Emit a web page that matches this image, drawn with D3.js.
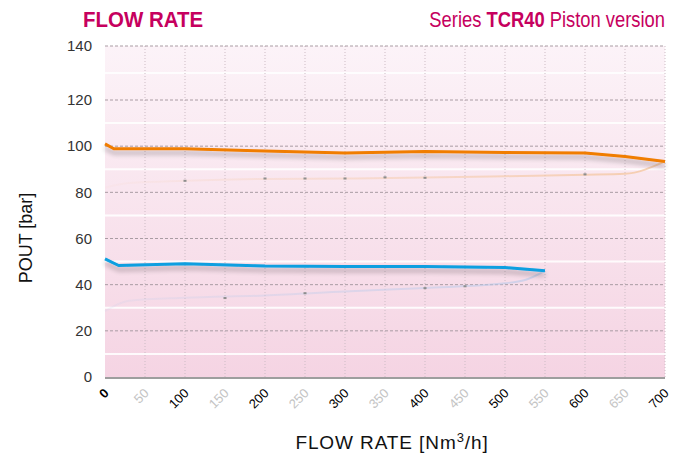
<!DOCTYPE html>
<html>
<head>
<meta charset="utf-8">
<script src="https://cdn.jsdelivr.net/npm/d3@7/dist/d3.min.js"></script>
<style>
  body { margin: 0; background: #fff; }
  svg { display: block; font-family: "Liberation Sans", Arial, sans-serif; }
</style>
</head>
<body>
<div id="chart"></div>
<script>
// data
const xTicks = [0, 50, 100, 150, 200, 250, 300, 350, 400, 450, 500, 550, 600, 650, 700];
const yTicks = [0, 20, 40, 60, 80, 100, 120, 140];
const yMinor = [10, 30, 50, 70, 90, 110, 130];

const orangeFlow = [0, 11, 100, 200, 300, 400, 500, 600, 650, 700];
const orangeP    = [101, 98.9, 98.9, 97.9, 97, 97.7, 97.3, 97, 95.5, 93.4];
const blueFlow   = [0, 17, 100, 200, 300, 400, 500, 550];
const blueP      = [51.2, 48.3, 49.1, 48.1, 47.9, 47.9, 47.4, 46];

// faint secondary curves and their small markers
const orangeFaintFlow = [0, 30, 100, 200, 300, 400, 500, 600, 650, 700];
const orangeFaintP    = [82, 84, 85, 85.8, 86, 86.4, 87, 87.6, 88, 93.4];
const orangeMarkFlow  = [100, 200, 250, 300, 350, 400, 600];
const orangeMarkP     = [85, 86, 86, 86, 86.5, 86.3, 87.8];
const blueFaintFlow   = [0, 30, 100, 200, 300, 400, 500, 525, 550];
const blueFaintP      = [28.5, 33, 34.3, 35.3, 37, 38.6, 40.6, 42, 46];
const blueMarkFlow    = [150, 250, 400, 450];
const blueMarkP       = [34.2, 36.3, 38.5, 39.3];

const width = 680, height = 456;
const mLeft = 105, mRight = 665, mTop = 46, mBottom = 377;
const magenta = "#c6005e";

const svg = d3.select("#chart").append("svg")
  .attr("width", width)
  .attr("height", height);

const x = d3.scaleLinear().domain([0, 700]).range([mLeft, mRight]);
// top band of the original is a bit taller than the others
const y = d3.scaleLinear().domain([0, 120, 140]).range([mBottom, 100, mTop]);

const defs = svg.append("defs");
const grad = defs.append("linearGradient")
  .attr("id", "bg").attr("x1", 0).attr("y1", 0).attr("x2", 0).attr("y2", 1);
grad.append("stop").attr("offset", "0%").attr("stop-color", "#fcf3f8");
grad.append("stop").attr("offset", "100%").attr("stop-color", "#f5d4e3");

// faint curves fade in from the left
function fadeGradient(id, color, from, to) {
  const g = defs.append("linearGradient").attr("id", id)
    .attr("gradientUnits", "userSpaceOnUse")
    .attr("x1", mLeft).attr("x2", mRight).attr("y1", 0).attr("y2", 0);
  g.append("stop").attr("offset", "0%").attr("stop-color", color).attr("stop-opacity", from);
  g.append("stop").attr("offset", "100%").attr("stop-color", color).attr("stop-opacity", to);
}
fadeGradient("fadeOrange", "#f4c49a", 0.05, 0.75);
fadeGradient("fadeBlue", "#bccbea", 0.15, 0.8);

const shadow = defs.append("filter").attr("id", "shadow")
  .attr("x", "-5%").attr("y", "-50%").attr("width", "110%").attr("height", "300%");
shadow.append("feGaussianBlur").attr("in", "SourceAlpha").attr("stdDeviation", 2.5).attr("result", "b");
shadow.append("feOffset").attr("in", "b").attr("dy", 4).attr("result", "o");
shadow.append("feComponentTransfer").attr("in", "o").attr("result", "s")
  .append("feFuncA").attr("type", "linear").attr("slope", 0.3);
const merge = shadow.append("feMerge");
merge.append("feMergeNode").attr("in", "s");
merge.append("feMergeNode").attr("in", "SourceGraphic");

// plot background
svg.append("rect")
  .attr("x", mLeft).attr("y", mTop)
  .attr("width", mRight - mLeft).attr("height", mBottom - mTop)
  .attr("fill", "url(#bg)");

// white minor lines
svg.append("g").selectAll("line")
  .data(yMinor)
  .join("line")
  .attr("x1", mLeft).attr("x2", mRight)
  .attr("y1", d => y(d)).attr("y2", d => y(d))
  .attr("stroke", "#fff").attr("stroke-width", 2).attr("opacity", 0.9);

// vertical dotted grid
svg.append("g").selectAll("line")
  .data(xTicks.filter(d => d > 0))
  .join("line")
  .attr("x1", d => x(d)).attr("x2", d => x(d))
  .attr("y1", mTop).attr("y2", mBottom)
  .attr("stroke", "#cdbcc5").attr("stroke-width", 1)
  .attr("stroke-dasharray", "1,2");

// horizontal dashed grid
svg.append("g").selectAll("line")
  .data(yTicks.filter(d => d > 0))
  .join("line")
  .attr("x1", mLeft).attr("x2", mRight)
  .attr("y1", d => y(d)).attr("y2", d => y(d))
  .attr("stroke", "#a99ca3").attr("stroke-width", 1)
  .attr("stroke-dasharray", "3,2");

// baseline
svg.append("line")
  .attr("x1", mLeft).attr("x2", mRight)
  .attr("y1", y(0) + 1).attr("y2", y(0) + 1)
  .attr("stroke", "#9e9e9e").attr("stroke-width", 2);

// y axis labels
const yAxis = d3.axisLeft(y).tickValues(yTicks).tickSize(0).tickPadding(13);
svg.append("g")
  .attr("transform", `translate(${mLeft},0)`)
  .call(yAxis)
  .call(g => g.select(".domain").remove())
  .selectAll("text")
  .attr("font-size", 15)
  .attr("font-family", "'Liberation Sans', Arial, sans-serif")
  .attr("fill", "#333");

// x axis labels, rotated
const xAxis = d3.axisBottom(x).tickValues(xTicks).tickSize(0).tickPadding(0);
svg.append("g")
  .attr("transform", `translate(0,${mBottom})`)
  .call(xAxis)
  .call(g => g.select(".domain").remove())
  .selectAll("text")
  .attr("font-size", 13)
  .attr("font-family", "'Liberation Sans', Arial, sans-serif")
  .attr("text-anchor", "end")
  .attr("dy", 0)
  .attr("transform", "translate(4,17) rotate(-45)")
  .attr("font-weight", d => d === 0 ? "bold" : "normal")
  .attr("fill", d => d % 100 === 0 ? "#000" : "#c4c4c4");

const line = d3.line()
  .x(d => x(d[0]))
  .y(d => y(d[1]))
  .curve(d3.curveMonotoneX);

const zip = (a, b) => a.map((v, i) => [v, b[i]]);

// faint curves
svg.append("path")
  .datum(zip(orangeFaintFlow, orangeFaintP))
  .attr("d", line)
  .attr("fill", "none")
  .attr("stroke", "url(#fadeOrange)").attr("stroke-width", 2);
svg.append("path")
  .datum(zip(blueFaintFlow, blueFaintP))
  .attr("d", line)
  .attr("fill", "none")
  .attr("stroke", "url(#fadeBlue)").attr("stroke-width", 2);

// small markers
svg.append("g").selectAll("rect")
  .data(zip(orangeMarkFlow, orangeMarkP).concat(zip(blueMarkFlow, blueMarkP)))
  .join("rect")
  .attr("x", d => x(d[0]) - 1.5)
  .attr("y", d => y(d[1]) - 1)
  .attr("width", 3).attr("height", 2)
  .attr("fill", "#8e8e8e");

// main curves
const mainLine = d3.line()
  .x(d => x(d[0]))
  .y(d => y(d[1]));

svg.append("path")
  .datum(zip(orangeFlow, orangeP))
  .attr("d", mainLine)
  .attr("fill", "none")
  .attr("stroke", "#f07d00").attr("stroke-width", 3)
  .attr("stroke-linejoin", "round")
  .attr("filter", "url(#shadow)");

svg.append("path")
  .datum(zip(blueFlow, blueP))
  .attr("d", mainLine)
  .attr("fill", "none")
  .attr("stroke", "#099fe0").attr("stroke-width", 3)
  .attr("stroke-linejoin", "round")
  .attr("filter", "url(#shadow)");

// titles, squeezed horizontally to look condensed like the original
svg.append("g")
  .attr("transform", "translate(83,27) scale(0.93,1)")
  .append("text")
  .attr("font-size", 22).attr("font-weight", "bold")
  .attr("fill", magenta)
  .text("FLOW RATE");

const sub = svg.append("g")
  .attr("transform", "translate(665,27) scale(0.835,1)")
  .append("text")
  .attr("text-anchor", "end")
  .attr("font-size", 22)
  .attr("fill", magenta);
sub.append("tspan").text("Series ");
sub.append("tspan").attr("font-weight", "bold").text("TCR40");
sub.append("tspan").text(" Piston version");

// axis titles
svg.append("text")
  .attr("transform", `translate(32,238) rotate(-90)`)
  .attr("text-anchor", "middle")
  .attr("font-size", 18)
  .attr("fill", "#111")
  .text("POUT [bar]");

const xt = svg.append("text")
  .attr("x", 392).attr("y", 449)
  .attr("text-anchor", "middle")
  .attr("font-size", 19)
  .attr("letter-spacing", 0.9)
  .attr("fill", "#111");
xt.append("tspan").text("FLOW RATE [Nm");
xt.append("tspan").attr("font-size", 13).attr("dy", -7).text("3");
xt.append("tspan").attr("dy", 7).text("/h]");
</script>
</body>
</html>
